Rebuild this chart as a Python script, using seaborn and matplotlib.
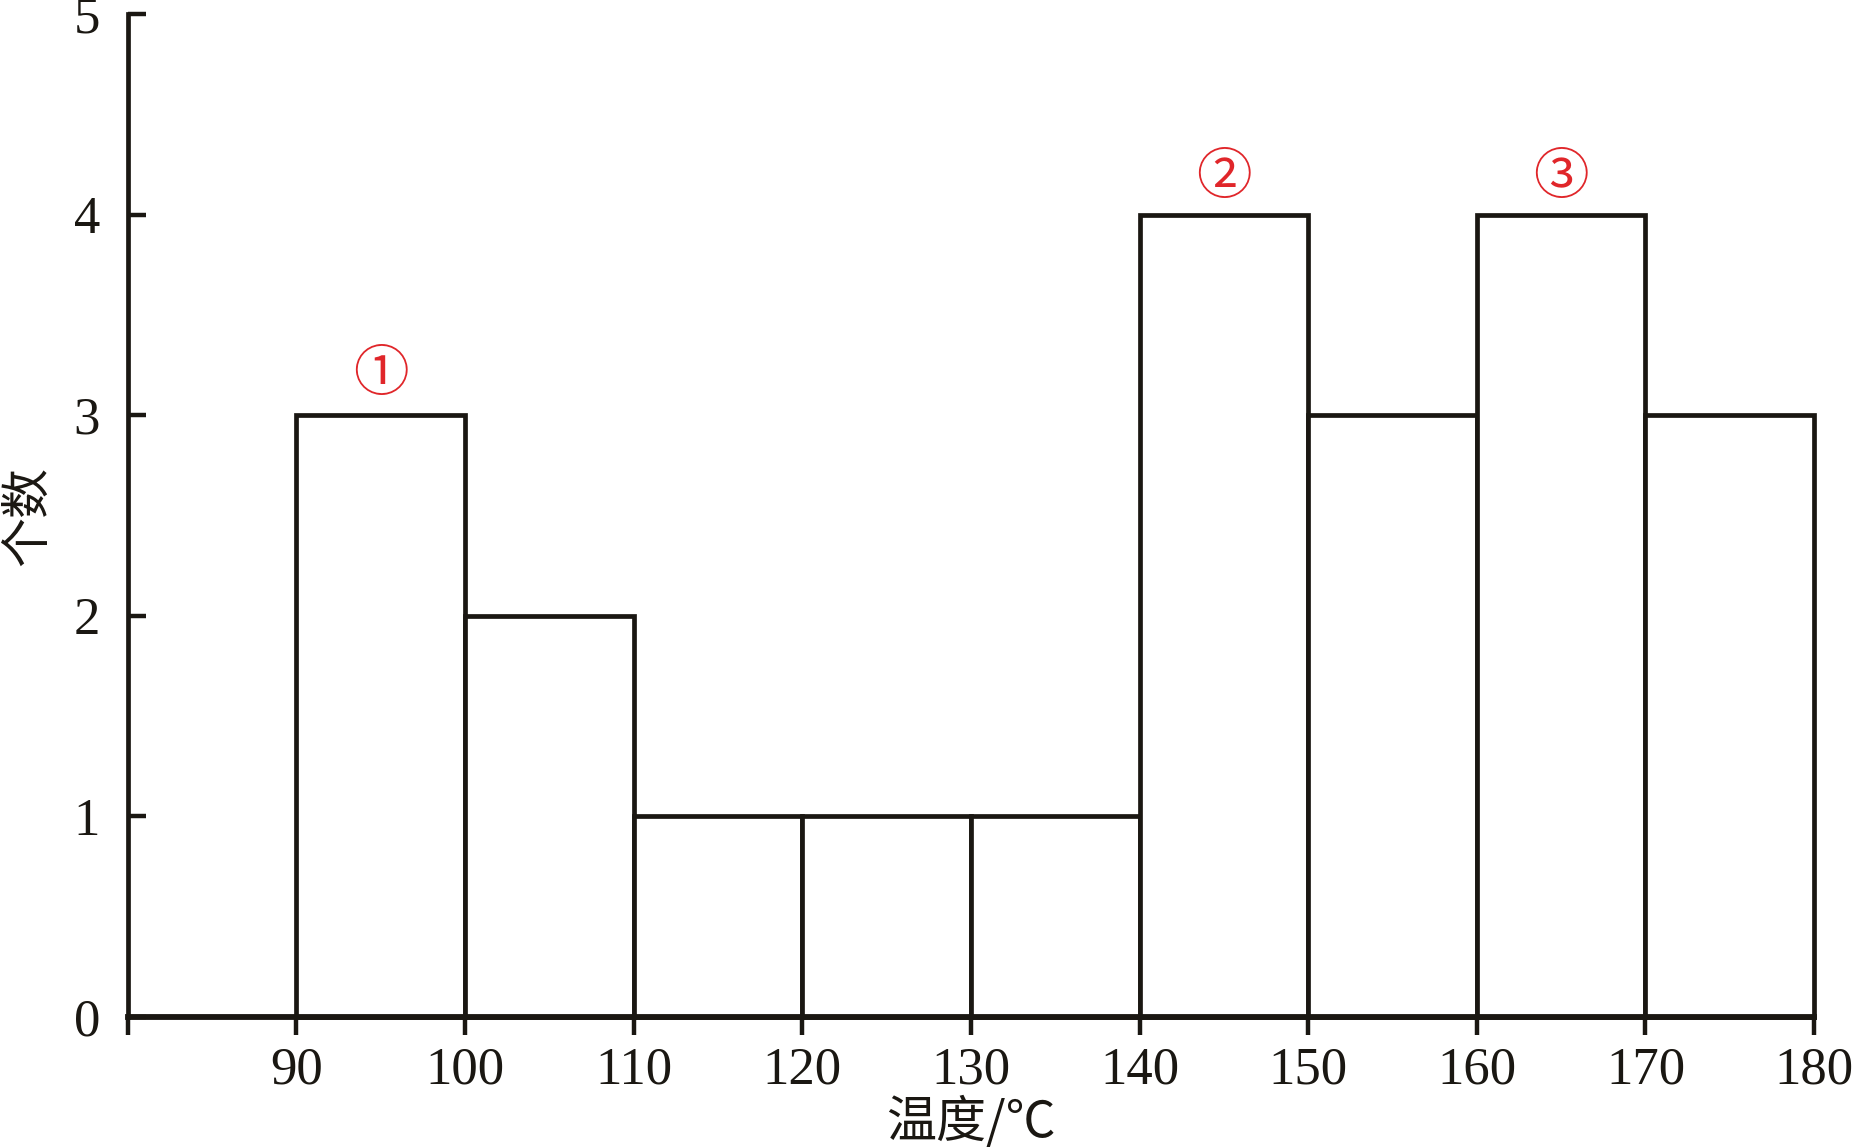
import matplotlib
matplotlib.use("Agg")
import matplotlib.pyplot as plt
import seaborn as sns
import pandas as pd

# bin edges and counts (temperature histogram)
bin_edges = [90, 100, 110, 120, 130, 140, 150, 160, 170, 180]
counts = [3, 2, 1, 1, 1, 4, 3, 4, 3]
bin_centers = [95, 105, 115, 125, 135, 145, 155, 165, 175]

# circled peak labels
peak_labels = ["①", "②", "③"]
peak_x = [95, 145, 165]
peak_y = [3.2, 4.18, 4.18]

xticks = [80, 90, 100, 110, 120, 130, 140, 150, 160, 170, 180]
xticklabels = ["", "90", "100", "110", "120", "130", "140", "150", "160", "170", "180"]

sns.set_style("white")
plt.rcParams['font.family'] = ['Liberation Serif', 'Noto Sans CJK SC', 'DejaVu Sans']

df = pd.DataFrame({"temp": bin_centers, "n": counts})

fig = plt.figure(figsize=(18.53, 11.47), dpi=100)
ax = fig.add_axes([0.0689, 0.1133, 0.9101, 0.8745])

sns.histplot(data=df, x="temp", weights="n", bins=bin_edges, ax=ax,
             color="white", edgecolor="#1a1712", linewidth=3.4, alpha=1)
for p in ax.patches:
    p.set_clip_on(False)

for lab, x, y in zip(peak_labels, peak_x, peak_y):
    ax.text(x, y, lab, color="#e0262a", fontsize=40, ha="center", va="center",
            family=['Noto Sans CJK SC', 'DejaVu Sans'])

ax.set_xlim(80, 180)
ax.set_ylim(0, 5)
ax.set_xticks(xticks)
ax.set_xticklabels(xticklabels)
ax.set_yticks([0, 1, 2, 3, 4, 5])

for side in ["top", "right"]:
    ax.spines[side].set_visible(False)
ax.spines["left"].set_linewidth(3.4)
ax.spines["bottom"].set_linewidth(4.2)
ax.spines["left"].set_color("#1a1712")
ax.spines["bottom"].set_color("#1a1712")

ax.tick_params(axis="x", bottom=True, direction="out", length=13, width=3.2, pad=8,
               labelsize=38, colors="#1a1712")
ax.tick_params(axis="y", left=True, direction="in", length=13, width=3.2, pad=20,
               labelsize=38, colors="#1a1712")

ax.set_xlabel("温度/℃", fontsize=36, labelpad=2, color="#1a1712",
              family=['Noto Sans CJK SC', 'DejaVu Sans'])
ax.set_ylabel("个数", fontsize=36, labelpad=14, color="#1a1712",
              family=['Noto Sans CJK SC', 'DejaVu Sans'])

fig.savefig("out.png", dpi=100)
